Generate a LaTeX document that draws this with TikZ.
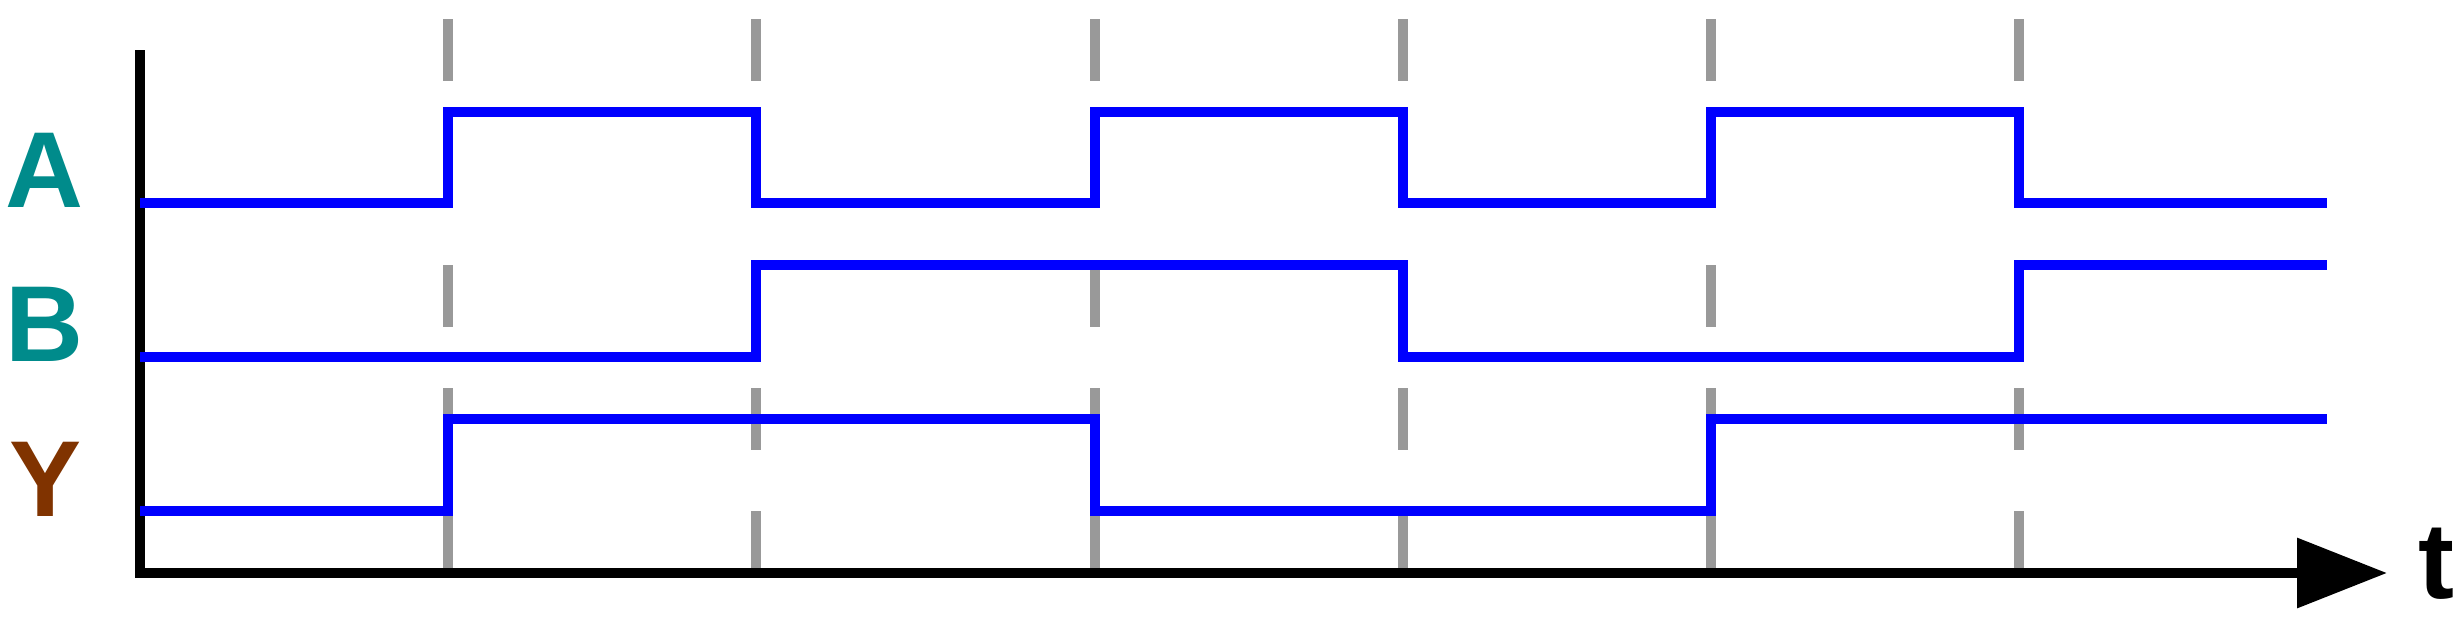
\documentclass[tikz,border=0pt]{standalone}
\usepackage{fontspec}
\setmainfont{Liberation Sans}
\usetikzlibrary{arrows.meta, positioning}
\definecolor{sigteal}{RGB}{0,139,139}
\definecolor{sigbrown}{RGB}{128,51,0}
\definecolor{gridgray}{RGB}{153,153,153}

\begin{document}
\begin{tikzpicture}[x=0.5pt, y=-0.5pt,
  sig/.style={line width=5pt, blue},
  gridline/.style={line width=5pt, gridgray, dash pattern=on 31pt off 30.5pt},
  axis/.style={line width=5pt, black},
  lab/.style={font=\fontsize{54}{60}\selectfont\bfseries, inner sep=0pt, anchor=base}]
  \useasboundingbox (0,0) rectangle (2462,622);

  % Clock edges
  \foreach \t in {448,756,1095,1403,1711,2019}
    \draw[gridline] (\t,19) -- (\t,568);

  % Axes
  \coordinate (ytop) at (140,50);
  \coordinate (orig) at (140,573);
  \coordinate (xtip) at (2387,573);
  \draw[axis, -{Triangle[length=45pt, width=34pt]}] (ytop) -- (orig) -- (xtip);
  \node[lab] (labT) at (2436,598) {t};

  % Inputs
  \node[lab, sigteal] (labA) at (44,207) {A};
  \node[lab, sigteal] (labB) at (44,361) {B};
  \node[lab, sigbrown] (labY) at (46,516) {Y};

  % Signal A
  \draw[sig] (140,203) -- (448,203) -- (448,112) -- (756,112) -- (756,203)
    -- (1095,203) -- (1095,112) -- (1403,112) -- (1403,203)
    -- (1711,203) -- (1711,112) -- (2019,112) -- (2019,203) -- (2327,203);

  % Signal B
  \draw[sig] (140,357) -- (756,357) -- (756,265) -- (1403,265) -- (1403,357)
    -- (2019,357) -- (2019,265) -- (2327,265);

  % Output Y
  \draw[sig] (140,511) -- (448,511) -- (448,419) -- (1095,419) -- (1095,511)
    -- (1711,511) -- (1711,419) -- (2327,419);
\end{tikzpicture}
\end{document}
